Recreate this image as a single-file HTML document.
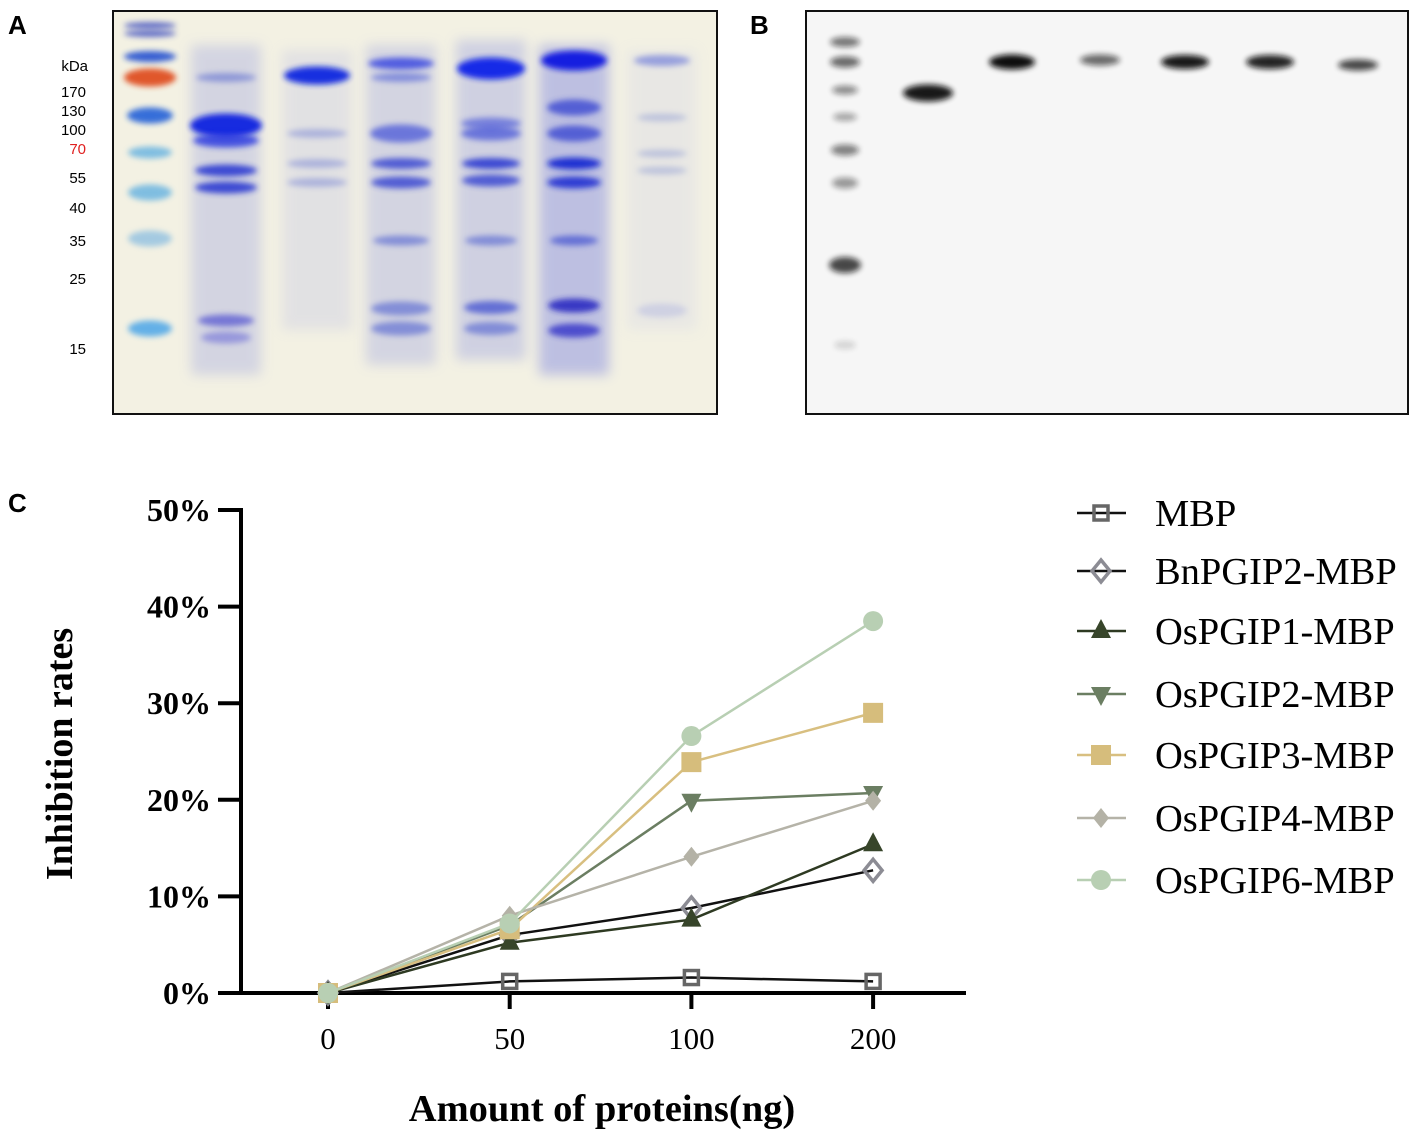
<!DOCTYPE html>
<html><head><meta charset="utf-8"><style>
body{margin:0;background:#fff;width:1417px;height:1140px;overflow:hidden}
svg{display:block}
.pl{font-family:"Liberation Sans",sans-serif;font-weight:bold;font-size:26px}
.sm{font-family:"Liberation Sans",sans-serif;font-size:15px}
.ser{font-family:"Liberation Serif",serif}
</style></head><body>
<svg id="fig" width="1417" height="1140" viewBox="0 0 1417 1140">
<defs>
<filter id="b3" x="-50%" y="-200%" width="200%" height="500%"><feGaussianBlur stdDeviation="3"/></filter>
<filter id="b6" x="-50%" y="-200%" width="200%" height="500%"><feGaussianBlur stdDeviation="6"/></filter>
</defs>
<text class="pl" x="8" y="34">A</text>
<text class="pl" x="750" y="34">B</text>
<text class="pl" x="8" y="512">C</text>
<g class="sm" text-anchor="end">
<text x="88" y="71">kDa</text><text x="86" y="97">170</text><text x="86" y="116">130</text><text x="86" y="135">100</text>
<text x="86" y="154" fill="#e02020">70</text><text x="86" y="183">55</text><text x="86" y="213">40</text>
<text x="86" y="246">35</text><text x="86" y="284">25</text><text x="86" y="354">15</text>
</g>
<g>
<rect x="113" y="11" width="604" height="403" fill="#f3f1e3" stroke="#111" stroke-width="2"/>
<g id="gelA"></g>
</g>
<g>
<rect x="806" y="11" width="602" height="403" fill="#f6f6f6" stroke="#111" stroke-width="2"/>
<g id="gelB"></g>
</g>
<g id="chart"></g>
</svg>
<script>
const NS="http://www.w3.org/2000/svg";
function mk(tag,attrs,parent){const e=document.createElementNS(NS,tag);for(const k in attrs)e.setAttribute(k,attrs[k]);parent.appendChild(e);return e;}
const gelA=document.getElementById('gelA');
[[226,45,330,'#9aa0e0',0.35],[401,45,320,'#9aa0e0',0.35],[491,40,320,'#9aa0e0',0.4],[574,45,330,'#7c84e0',0.45],[317,50,280,'#b0b4e4',0.25],[662,50,280,'#c0c4e8',0.2]].forEach(l=>{
mk('rect',{x:l[0]-35,y:l[1],width:70,height:l[2],fill:l[3],opacity:l[4],filter:'url(#b6)'},gelA);});
const bandsA=[
[150,25,52,3,'#4050c0',.8],[150,33,52,3,'#4050c0',.8],[150,56,52,7,'#2050d0',.9],[150,77,52,14,'#e05020',.95],[150,115,46,12,'#2060d8',.9],[150,152,44,8,'#50a8e0',.7],[150,192,44,12,'#50a8e0',.7],[150,238,44,12,'#70b0e0',.6],[150,328,44,12,'#40a0e8',.8],
[226,125,72,20,'#1020e0',.95],[226,140,66,10,'#2030e0',.8],[226,170,62,8,'#2030d0',.85],[226,187,62,8,'#2030d0',.85],[226,77,60,5,'#6070d0',.6],[226,320,56,8,'#5050d0',.7],[226,337,50,8,'#7070d8',.6],
[317,75,66,14,'#1028e0',.95],[317,133,60,5,'#6070d0',.4],[317,163,60,5,'#6070d0',.4],[317,182,60,5,'#6070d0',.4],
[401,63,66,8,'#3040e0',.8],[401,77,60,5,'#5060d8',.6],[401,133,62,14,'#4050d8',.7],[401,163,60,7,'#3040d0',.8],[401,182,60,8,'#3040d0',.8],[401,240,56,6,'#5060d0',.6],[401,308,60,10,'#5060d0',.6],[401,328,60,10,'#5060d0',.6],
[491,68,68,18,'#0820e8',.95],[491,123,60,8,'#4050d8',.6],[491,133,60,10,'#4050d8',.7],[491,163,58,7,'#2030d0',.85],[491,180,58,8,'#3040d0',.8],[491,240,52,6,'#5060d0',.6],[491,307,54,9,'#4050d0',.75],[491,328,54,9,'#5060d0',.6],
[574,60,66,16,'#0818e0',.95],[574,107,54,12,'#3040d0',.75],[574,133,54,12,'#3040d0',.75],[574,163,54,8,'#1020d0',.9],[574,182,54,8,'#1828d0',.85],[574,240,48,6,'#4050d0',.7],[574,305,52,10,'#2020c0',.85],[574,330,52,10,'#3030c8',.8],
[662,60,56,7,'#6070d8',.6],[662,117,50,4,'#8090d0',.4],[662,153,50,4,'#8090d0',.4],[662,170,50,4,'#8090d0',.4],[662,310,50,10,'#a0a8e0',.35]];
bandsA.forEach(b=>{mk('ellipse',{cx:b[0],cy:b[1]+0.5,rx:b[2]/2,ry:b[3]/2+2,fill:b[4],opacity:b[5],filter:'url(#b3)'},gelA);});
const gelB=document.getElementById('gelB');
const bandsB=[[845,42,30,8,.55],[845,62,30,9,.6],[845,90,26,7,.45],[845,117,24,6,.35],[845,150,28,9,.5],[845,183,26,9,.4],[845,265,32,14,.75],[845,345,22,6,.15],
[928,93,50,15,.95],[1012,62,46,13,1],[1100,60,40,9,.6],[1185,62,48,12,.95],[1270,62,48,12,.9],[1358,65,40,9,.75]];
bandsB.forEach(b=>{mk('ellipse',{cx:b[0],cy:b[1],rx:b[2]/2,ry:b[3]/2+1,fill:'#111',opacity:b[4],filter:'url(#b3)'},gelB);});

// ---- chart C data ----
const categories=["0","50","100","200"];
const yTicks=[0,10,20,30,40,50];
const seriesNames=["MBP","BnPGIP2-MBP","OsPGIP1-MBP","OsPGIP2-MBP","OsPGIP3-MBP","OsPGIP4-MBP","OsPGIP6-MBP"];
const mbp=[0,1.2,1.6,1.2];
const bnpgip2=[0,6.0,8.8,12.7];
const ospgip1=[0,5.2,7.6,15.4];
const ospgip2=[0,7.0,19.9,20.7];
const ospgip3=[0,6.6,23.9,29.0];
const ospgip4=[0,8.0,14.1,19.9];
const ospgip6=[0,7.2,26.6,38.5];
const seriesValues=[mbp,bnpgip2,ospgip1,ospgip2,ospgip3,ospgip4,ospgip6];
const styles=[
{line:'#111',mk:'sqOpen',c:'#666'},{line:'#111',mk:'diaOpen',c:'#8c8c94'},{line:'#2e3a22',mk:'triUp',c:'#37452a'},
{line:'#6b7e62',mk:'triDown',c:'#6b7e62'},{line:'#d8bf80',mk:'sq',c:'#d6bd7c'},{line:'#b5b3a8',mk:'dia',c:'#b4b2a6'},{line:'#b8cfb3',mk:'circ',c:'#b8cfb3'}];
const X0=241,Y0=993,YTOP=510;
const xs=i=>328+i*181.7;
const ys=v=>Y0-(v/50)*(Y0-YTOP);
const C=document.getElementById('chart');
function marker(kind,x,y,c,p){
 let e;
 if(kind==='sqOpen')e=mk('rect',{x:x-7,y:y-7,width:14,height:14,fill:'none',stroke:c,'stroke-width':3.5},p);
 else if(kind==='sq')e=mk('rect',{x:x-10,y:y-10,width:20,height:20,fill:c},p);
 else if(kind==='diaOpen')e=mk('polygon',{points:`${x},${y-11} ${x+9},${y} ${x},${y+11} ${x-9},${y}`,fill:'none',stroke:c,'stroke-width':3.5},p);
 else if(kind==='dia')e=mk('polygon',{points:`${x},${y-10} ${x+8},${y} ${x},${y+10} ${x-8},${y}`,fill:c},p);
 else if(kind==='triUp')e=mk('polygon',{points:`${x},${y-12} ${x+10},${y+7} ${x-10},${y+7}`,fill:c},p);
 else if(kind==='triDown')e=mk('polygon',{points:`${x},${y+12} ${x+10},${y-7} ${x-10},${y-7}`,fill:c},p);
 else e=mk('circle',{cx:x,cy:y,r:10,fill:c},p);
 return e;
}
const ax=mk('g',{},C);


mk('line',{x1:X0,y1:YTOP-2,x2:X0,y2:Y0+2,stroke:'#000','stroke-width':4},ax);
mk('line',{x1:X0-2,y1:Y0,x2:966,y2:Y0,stroke:'#000','stroke-width':4},ax);
yTicks.forEach(t=>{
 const y=ys(t);
 mk('line',{x1:218,y1:y,x2:X0,y2:y,stroke:'#000','stroke-width':4},ax);
 const tx=mk('text',{x:211,y:y+11,'text-anchor':'end','font-size':32,'font-weight':'bold',class:'ser'},ax);
 tx.textContent=t+'%';
 
 
});
categories.forEach((c,i)=>{
 const x=xs(i);
 mk('line',{x1:x,y1:Y0,x2:x,y2:Y0+16,stroke:'#000','stroke-width':4},ax);
 const tx=mk('text',{x:x,y:1049,'text-anchor':'middle','font-size':31,class:'ser'},ax);
 tx.textContent=c;
 
 
});
const yt=mk('text',{x:0,y:0,transform:'translate(72,754) rotate(-90)','text-anchor':'middle','font-size':38,'font-weight':'bold',class:'ser'},C);
yt.textContent='Inhibition rates';


const xt=mk('text',{x:602,y:1121,'text-anchor':'middle','font-size':38.5,'font-weight':'bold',class:'ser'},C);
xt.textContent='Amount of proteins(ng)';


seriesValues.forEach((vals,si)=>{
 const st=styles[si];
 const g=mk('g',{},C);
 
 
 mk('polyline',{points:vals.map((v,i)=>xs(i)+','+ys(v)).join(' '),fill:'none',stroke:st.line,'stroke-width':2.5},g);
 vals.forEach((v,i)=>{const m=marker(st.mk,xs(i),ys(v),st.c,g);
  
  });
});
const legY=[513,571,631,694,755,818,880];
seriesNames.forEach((n,si)=>{
 const st=styles[si];
 const g=mk('g',{},C);
 
 
 mk('line',{x1:1077,y1:legY[si],x2:1126,y2:legY[si],stroke:st.line,'stroke-width':2.5},g);
 marker(st.mk,1101,legY[si],st.c,g);
 const t=mk('text',{x:1155,y:legY[si]+13,'font-size':38.5,class:'ser'},g);
 t.textContent=n;
});
</script>
</body></html>
